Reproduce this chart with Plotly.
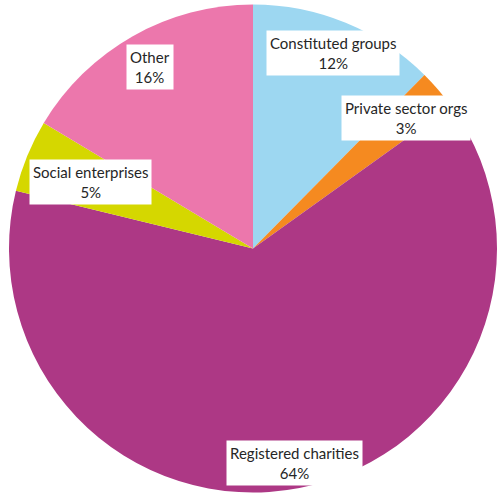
import math
import plotly.graph_objects as go

labels = ["Constituted groups", "Private sector orgs", "Registered charities", "Social enterprises", "Other"]
values = [12.4, 2.7, 63.7, 4.8, 16.4]
colors = ["#9DD7F1", "#F58A20", "#AD3885", "#D5D700", "#EC77AC"]
label_radius = [0.865, 0.826, 0.894, 0.719, 0.855]

W, H = 498, 494
cx, cy, R = 253, 248.5, 244

fig = go.Figure(go.Pie(
    labels=labels, values=values, sort=False, direction="clockwise", rotation=0,
    marker=dict(colors=colors, line=dict(width=0)), textinfo="none", hoverinfo="label+percent",
    domain=dict(x=[(cx - R) / W, (cx + R) / W], y=[(H - cy - R) / H, (H - cy + R) / H]),
    showlegend=False,
))

total = sum(values)
cum = 0
annotations = []
for lab, v, rf in zip(labels, values, label_radius):
    mid = (cum + v / 2) / total * 2 * math.pi
    cum += v
    px = cx + rf * R * math.sin(mid)
    py = cy - rf * R * math.cos(mid)
    annotations.append(dict(
        x=px / W, y=1 - py / H, xref="paper", yref="paper", showarrow=False,
        xanchor="center", yanchor="middle",
        text=f"{lab}<br>{round(v / total * 100)}%", bgcolor="white", borderpad=3,
        font=dict(family="Lato", size=15, color="#262626"), align="center",
    ))

fig.update_layout(width=W, height=H, margin=dict(l=0, r=0, t=0, b=0),
                  paper_bgcolor="white", plot_bgcolor="white", annotations=annotations)
fig.write_html("out.html")
